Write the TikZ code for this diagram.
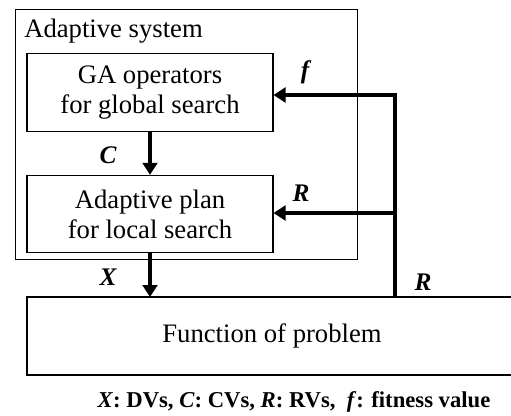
\documentclass[tikz,border=0pt]{standalone}
\usepackage{fontspec}
\setmainfont{Liberation Serif}
\usetikzlibrary{arrows.meta}

\tikzset{
  blockbox/.style={draw, line width=0.8pt, minimum width=184.5pt, minimum height=58pt, align=center, inner sep=0pt, font=\fontsize{20}{22.5}\selectfont},
  flow/.style={line width=3pt, -{Triangle[length=9pt, width=11pt]}},
  varlabel/.style={font=\fontsize{19}{21}\selectfont\bfseries\itshape}
}

\begin{document}
\begin{tikzpicture}[x=0.75pt, y=-0.75pt]
    \useasboundingbox (0,0) rectangle (511,415);

    % Adaptive system frame
    \draw[line width=0.6pt] (15,9) rectangle (357,259);
    \node[anchor=west, inner sep=0pt, font=\fontsize{20}{22}\selectfont] (sys) at (24,31) {Adaptive system};

    % Blocks
    \node[blockbox] (ga) at (150,92.5) {GA operators\\for global search};
    \node[blockbox] (plan) at (150,214) {Adaptive plan\\for local search};
    \draw[line width=0.8pt] (27,297) rectangle (513,375);
    \node[font=\fontsize{20}{22}\selectfont] (fp) at (272,336) {Function of problem};
    \coordinate (fptop) at (395,297);

    % Connectors
    \draw[flow] (ga.south) -- (plan.north);
    \draw[flow] (plan.south) -- (150,297);
    \coordinate (top) at (395,95);
    \coordinate (mid) at (395,213);
    \draw[flow, line join=miter] (fptop) -- (top) -- (ga.east |- top);
    \draw[flow] (mid) -- (plan.east |- mid);

    % Variable labels
    \node[varlabel] (lc) at (108,155) {C};
    \node[varlabel] (lx) at (108,277) {X};
    \node[varlabel] (lf) at (305,72) {f};
    \node[varlabel] (lr1) at (301,193) {R};
    \node[varlabel] (lr2) at (423,282) {R};

    % Legend
    \node[font=\fontsize{17}{19}\selectfont\bfseries] (legend) at (294,402)
      {\textit{X}: DVs, \textit{C}: CVs, \textit{R}: RVs, \ \textit{f}: fitness value};
\end{tikzpicture}
\end{document}
